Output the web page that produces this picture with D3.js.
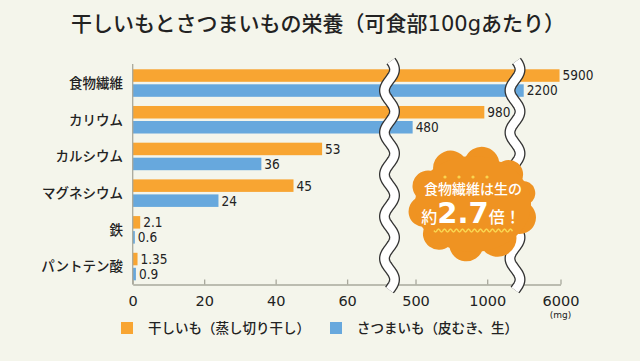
<!DOCTYPE html>
<html><head><meta charset="utf-8">
<script src="https://cdn.jsdelivr.net/npm/d3@7/dist/d3.min.js"></script>
<style>
html,body{margin:0;padding:0;background:#f4f5eb;}
svg{display:block;}
text{font-family:"Noto Sans CJK JP","Noto Sans",sans-serif;}
</style></head>
<body>
<svg id="chart" width="640" height="361"></svg>
<script>
// ---- data ----
const categories = ["食物繊維","カリウム","カルシウム","マグネシウム","鉄","パントテン酸"];
const seriesNames = ["干しいも（蒸し切り干し）","さつまいも（皮むき、生）"];
const hoshiimo = [5900, 980, 53, 45, 2.1, 1.35];
const satsumaimo = [2200, 480, 36, 24, 0.6, 0.9];
const hoshiLabels = ["5900","980","53","45","2.1","1.35"];
const satsuLabels = ["2200","480","36","24","0.6","0.9"];
const tickValues = [0, 20, 40, 60, 500, 1000, 6000];
const titleA = "干しいもとさつまいもの栄養（可食部";
const titleB = "100g";
const titleC = "あたり）";
const unit = "(mg)";
const badgeLine1 = "食物繊維は生の";
const badgeRatio = "2.7";

const colors = ["#f8a532", "#67a8dd"];
const svg = d3.select("#chart");
const W = 640, H = 361;
svg.append("rect").attr("width", W).attr("height", H).attr("fill", "#f4f5eb");

// broken (piecewise) x scale
const x = d3.scaleLinear()
  .domain([0, 72, 322, 1194, 1300, 6000])
  .range([132.7, 390, 390, 515, 515, 560.5]);
const breaks = [389.5, 515];

const y = d3.scaleBand().domain(categories).range([64.7, 284.9])
  .paddingInner(0.25).paddingOuter(0.125);
const ySub = d3.scaleBand().domain([0, 1]).range([0, y.bandwidth()]).paddingInner(0.1667);

const axisY = 284.5;

// title
const tt = svg.append("text").attr("x", 318).attr("y", 31).attr("text-anchor", "middle")
  .attr("font-size", 21).attr("font-weight", 500).attr("fill", "#222");
tt.append("tspan").text(titleA);
tt.append("tspan").style("font-family", "'DejaVu Sans',sans-serif").attr("font-size", 21).text(titleB);
tt.append("tspan").text(titleC);

// bars
const rows = categories.map((c, i) => ({c, vals: [hoshiimo[i], satsumaimo[i]], labs: [hoshiLabels[i], satsuLabels[i]]}));
const g = svg.append("g");
rows.forEach(r => {
  r.vals.forEach((v, s) => {
    const yy = y(r.c) + ySub(s);
    g.append("rect").attr("x", x(0)).attr("y", yy)
      .attr("width", x(v) - x(0)).attr("height", ySub.bandwidth()).attr("fill", colors[s]);
    g.append("text").attr("x", x(v) + 3).attr("y", yy + ySub.bandwidth() / 2)
      .attr("dy", "0.36em").attr("font-size", 13.5)
      .style("font-family", "'Liberation Sans Narrow','DejaVu Sans Condensed',sans-serif")
      .attr("font-weight", 500).attr("fill", "#222").text(r.labs[s]);
  });
  svg.append("text").attr("x", 123).attr("y", y(r.c) + y.bandwidth() / 2)
    .attr("dy", "0.36em").attr("text-anchor", "end").attr("font-size", 13.5)
    .attr("font-weight", 500).attr("fill", "#222").text(r.c);
});

// axes
const xAxis = d3.axisBottom(x).tickValues(tickValues).tickFormat(d3.format("d"))
  .tickSizeInner(-5).tickSizeOuter(0).tickPadding(11);
const ax = svg.append("g").attr("transform", `translate(0,${axisY})`).call(xAxis);
ax.select(".domain").attr("stroke", "#a8a89c").attr("stroke-width", 1.3);
ax.selectAll(".tick line").attr("stroke", "#a8a89c").attr("stroke-width", 1.3);
ax.selectAll(".tick text").attr("font-size", 14.5).attr("fill", "#222")
  .style("font-family", "'DejaVu Sans',sans-serif");
svg.append("line").attr("x1", x(0)).attr("x2", x(0)).attr("y1", 64).attr("y2", axisY)
  .attr("stroke", "#a8a89c").attr("stroke-width", 1.3);
svg.append("text").attr("x", x(6000)).attr("y", 318).attr("text-anchor", "middle")
  .attr("font-size", 9).attr("fill", "#222").style("font-family", "'DejaVu Sans',sans-serif").text(unit);

// wavy breaks
breaks.forEach(bx => {
  const pts = d3.range(61, 290.5, 1).map(yy => [bx + 5 * Math.sin((yy - 61) / 42 * 2 * Math.PI + 0.3), yy]);
  const line = d3.line();
  svg.append("path").attr("d", line(pts)).attr("fill", "none").attr("stroke", "#333").attr("stroke-width", 11);
  svg.append("path").attr("d", line(pts)).attr("fill", "none").attr("stroke", "#fff").attr("stroke-width", 8.4);
});

// badge (cloud)
const cx = 473, cy = 204;
const angs = [0, 40, 80, 115, 150, 188, 225, 262, 298, 330];
const ept = a => [cx + 56 * Math.cos(a * Math.PI / 180), cy + 46 * Math.sin(a * Math.PI / 180)];
let d = "";
angs.forEach((a, i) => {
  const p = ept(a), q = ept(angs[(i + 1) % angs.length]);
  const chord = Math.hypot(q[0] - p[0], q[1] - p[1]);
  if (i === 0) d += `M${p[0]},${p[1]}`;
  d += `A${chord / 2 * 1.02},${chord / 2 * 1.02} 0 0 1 ${q[0]},${q[1]}`;
});
d += "Z";
svg.append("path").attr("d", d).attr("fill", "#ef9322");
svg.append("ellipse").attr("cx", cx).attr("cy", cy).attr("rx", 58).attr("ry", 48).attr("fill", "#ef9322");

svg.append("text").attr("x", cx).attr("y", 194).attr("text-anchor", "middle")
  .attr("font-size", 14).attr("font-weight", 500).attr("fill", "#fff").text(badgeLine1);
[445, 459, 473, 487].forEach(dx => svg.append("circle").attr("cx", dx).attr("cy", 177).attr("r", 1.6).attr("fill", "#f9d450"));
const t2 = svg.append("text").attr("x", cx - 2).attr("y", 223).attr("text-anchor", "middle").attr("fill", "#fff");
t2.append("tspan").attr("font-size", 16).attr("font-weight", 500).text("約");
t2.append("tspan").attr("font-size", 29).attr("font-weight", 700).style("font-family", "'DejaVu Sans',sans-serif").text(badgeRatio);
t2.append("tspan").attr("font-size", 16).attr("font-weight", 500).text("倍！");
const wv = d3.range(434, 513, 0.5).map(xx => [xx, 230.5 + 1.4 * Math.sin((xx - 434) / 6 * 2 * Math.PI)]);
svg.append("path").attr("d", d3.line()(wv)).attr("fill", "none").attr("stroke", "#f9d450").attr("stroke-width", 1.5);

// legend
const legX = [121, 330];
seriesNames.forEach((n, i) => {
  svg.append("rect").attr("x", legX[i]).attr("y", 322).attr("width", 12).attr("height", 12).attr("fill", colors[i]);
  svg.append("text").attr("x", legX[i] + 27).attr("y", 328).attr("dy", "0.36em")
    .attr("font-size", 13.5).attr("font-weight", 500).attr("fill", "#222").text(n);
});
</script>
</body></html>
